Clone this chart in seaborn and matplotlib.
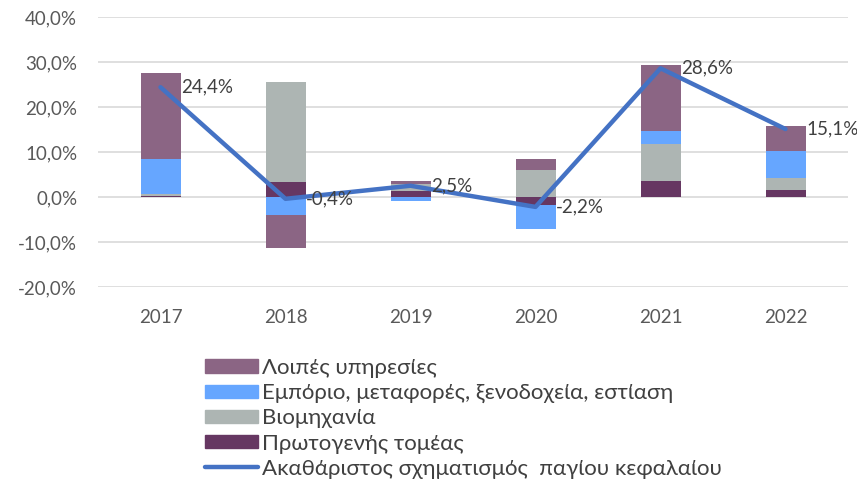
import matplotlib
matplotlib.use("Agg")
import matplotlib.pyplot as plt
from matplotlib.patches import Patch
from matplotlib.lines import Line2D
import numpy as np
import seaborn as sns

years = ["2017", "2018", "2019", "2020", "2021", "2022"]
primary = [0.3, 3.4, 1.3, -1.8, 3.6, 1.6]
industry = [0.3, 22.2, 1.6, 6.0, 8.2, 2.6]
trade = [7.9, -3.9, -0.9, -5.3, 2.9, 6.0]
other = [19.0, -7.5, 0.7, 2.4, 14.6, 5.6]
gfcf = [24.4, -0.4, 2.5, -2.2, 28.6, 15.1]

series_names = ["Πρωτογενής τομέας", "Βιομηχανία",
                "Εμπόριο, μεταφορές, ξενοδοχεία, εστίαση", "Λοιπές υπηρεσίες"]
line_name = "Ακαθάριστος σχηματισμός  παγίου κεφαλαίου"
colors = ["#663762", "#ADB5B3", "#66A6FF", "#8B6584"]
line_color = "#4472C4"
yticks = [-20, -10, 0, 10, 20, 30, 40]

sns.set_theme(style="white")
plt.rcParams["font.family"] = ["Lato", "DejaVu Sans"]

fig = plt.figure(figsize=(8.57, 4.8), dpi=100)
ax = fig.add_axes([98 / 857, 1 - 287 / 480, 750 / 857, 270 / 480])

x = np.arange(len(years))
pos_base = np.zeros(len(years))
neg_base = np.zeros(len(years))
for vals, col in zip([primary, industry, trade, other], colors):
    v = np.array(vals, dtype=float)
    base = np.where(v >= 0, pos_base, neg_base)
    ax.bar(x, v, bottom=base, width=0.32, color=col, edgecolor="none", zorder=2)
    pos_base += np.where(v >= 0, v, 0)
    neg_base += np.where(v < 0, v, 0)

sns.lineplot(x=x, y=gfcf, ax=ax, color=line_color, linewidth=3.2, zorder=3,
             legend=False)

for xi, val in zip(x, gfcf):
    ax.annotate(f"{val:.1f}%".replace(".", ","), (xi, val), xytext=(15, 0),
                textcoords="offset points", ha="left", va="center",
                fontsize=13.5, color="#404040", zorder=4)

ax.set_xlim(-0.5, len(years) - 0.5)
ax.set_ylim(-20, 40)
ax.set_yticks(yticks)
ax.set_yticklabels([f"{t:.1f}%".replace(".", ",") for t in yticks])
ax.set_xticks(x)
ax.set_xticklabels(years)
ax.tick_params(axis="both", colors="#595959", labelsize=13.5, length=0)
ax.tick_params(axis="y", pad=15)
ax.tick_params(axis="x", pad=16)
ax.grid(axis="y", color="#D9D9D9", linewidth=1.2, zorder=0)
ax.set_axisbelow(True)
for s in ax.spines.values():
    s.set_visible(False)

handles = [Patch(color=c) for c in colors[::-1]] + [
    Line2D([0], [0], color=line_color, linewidth=3.2)]
labels = series_names[::-1] + [line_name]
fig.legend(handles, labels, loc="upper left", bbox_to_anchor=(205 / 857, 1 - 358 / 480),
           frameon=False, fontsize=16, handlelength=2.4, handleheight=0.55,
           handletextpad=0.18, labelspacing=0.23, borderaxespad=0, borderpad=0,
           labelcolor="#404040")

fig.savefig("out.png", dpi=100)
